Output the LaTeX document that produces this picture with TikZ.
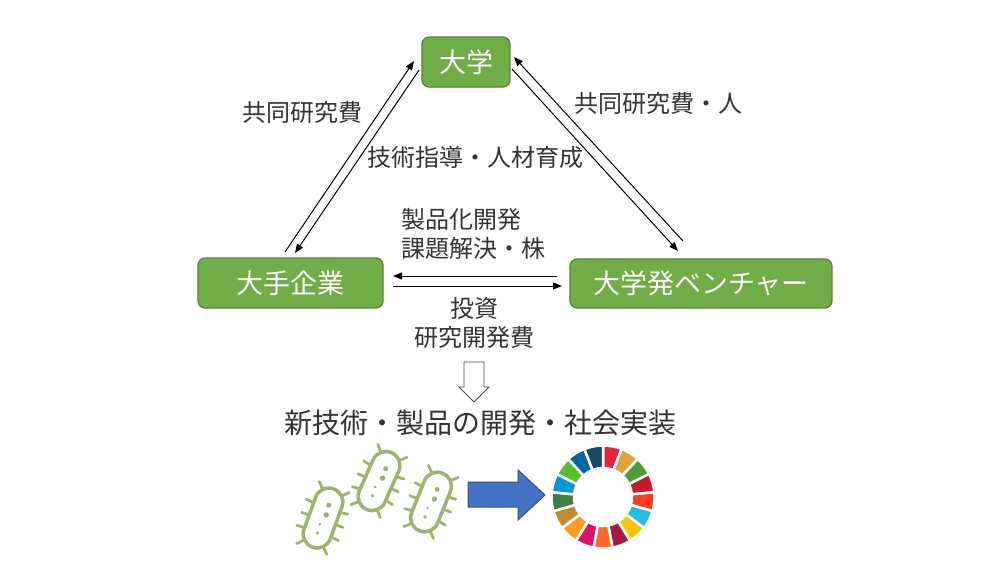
\documentclass[tikz,border=0pt]{standalone}
\usepackage{fontspec}
\setmainfont{Noto Sans CJK JP}
\usetikzlibrary{arrows.meta}
\definecolor{leaf}{RGB}{112,173,71}
\definecolor{leafdark}{RGB}{84,130,53}
\definecolor{germ}{RGB}{160,178,112}
\definecolor{blu}{RGB}{68,114,196}
\definecolor{bludark}{RGB}{47,82,143}
\definecolor{sdg1}{RGB}{229,36,59}
\definecolor{sdg2}{RGB}{221,166,58}
\definecolor{sdg3}{RGB}{76,159,56}
\definecolor{sdg4}{RGB}{197,25,45}
\definecolor{sdg5}{RGB}{255,58,33}
\definecolor{sdg6}{RGB}{38,189,226}
\definecolor{sdg7}{RGB}{252,195,11}
\definecolor{sdg8}{RGB}{162,25,66}
\definecolor{sdg9}{RGB}{253,105,37}
\definecolor{sdg10}{RGB}{221,19,103}
\definecolor{sdg11}{RGB}{253,157,36}
\definecolor{sdg12}{RGB}{191,139,46}
\definecolor{sdg13}{RGB}{63,126,68}
\definecolor{sdg14}{RGB}{10,151,217}
\definecolor{sdg15}{RGB}{86,192,43}
\definecolor{sdg16}{RGB}{0,104,157}
\definecolor{sdg17}{RGB}{25,72,106}
\tikzset{
  >={Triangle[length=9pt,width=7pt]},
  box/.style={draw=leafdark, line width=1.2pt, fill=leaf, rounded corners=7pt,
    text=white, font=\fontsize{27}{32}\selectfont, inner sep=0pt},
  lbl/.style={font=\fontsize{24}{29}\selectfont, inner sep=0pt, text=black!80},
  germline/.style={draw=germ, line width=3.5pt, line cap=round},
}

\begin{document}
\begin{tikzpicture}[x=1pt,y=-1pt]
\useasboundingbox (0,0) rectangle (1000,563);

\node[box, minimum width=88pt, minimum height=50pt] (U) at (466,62) {大学};
\node[box, minimum width=185pt, minimum height=50pt] (C) at (290.5,283) {大手企業};
\node[box, minimum width=262pt, minimum height=49pt] (V) at (701,283.5) {大学発ベンチャー};

\coordinate (P1) at (285,252);
\coordinate (Q1) at (414,61);
\coordinate (P2) at (419,70);
\coordinate (Q2) at (295,253);
\coordinate (P3) at (683,241);
\coordinate (Q3) at (514,57);
\coordinate (P4) at (512,69);
\coordinate (Q4) at (678,251);
\coordinate (P5) at (557,276);
\coordinate (Q5) at (393,276);
\coordinate (P6) at (393,286);
\coordinate (Q6) at (562,286);

\draw[->, line width=1pt] (P1) -- (Q1);
\draw[->, line width=1pt] (P2) -- (Q2);
\draw[->, line width=1pt] (P3) -- (Q3);
\draw[->, line width=1pt] (P4) -- (Q4);
\draw[->, line width=1pt] (P5) -- (Q5);
\draw[->, line width=1pt] (P6) -- (Q6);

\node[lbl] (L1) at (302,112) {共同研究費};
\node[lbl] (L2) at (475,157) {技術指導・人材育成};
\node[lbl] (L3) at (658,103) {共同研究費・人};
\node[lbl, align=left, anchor=west] (L4) at (401,234) {製品化開発\\課題解決・株};
\node[lbl, align=center] (L5) at (474,323) {投資\\研究開発費};

% open arrow down
\draw[draw=black!70, fill=white, line width=0.8pt] (464,362) -- (484,362) -- (484,387)
  -- (489,387) -- (474,402) -- (459,387) -- (464,387) -- cycle;

\node[lbl, font=\fontsize{28}{32}\selectfont] (T) at (480.5,423) {新技術・製品の開発・社会実装};

% germs
\foreach \x/\y/\r in {323/518/-20, 379/481/-24, 431/502/-22} {
  \begin{scope}[shift={(\x,\y)}, rotate=\r]
    \draw[germline, rounded corners=13.9pt] (-14,-31) rectangle (14,31);
    \foreach \a/\b/\c/\d in {-14/-11/-22/-12, -14/2/-22/2, -14/15/-22/16,
      14/-11/22/-12, 14/2/22/2, 14/15/22/16,
      -10/-27/-16/-33, 10/-27/16/-33, -10/27/-16/33, 10/27/16/33}
      \draw[germline, line width=2.8pt] (\a,\b) -- (\c,\d);
    \fill[germ] (1,-14) circle (2.5);
    \fill[germ] (2,-4) circle (2.7);
    \fill[germ] (-1,7) circle (1.4);
    \fill[germ] (0,16) circle (1.9);
  \end{scope}
}

% blue arrow
\draw[fill=blu, draw=bludark, line width=1pt] (468,482) -- (518,482) -- (518,470)
  -- (545,495) -- (518,520) -- (518,507) -- (468,507) -- cycle;

% sdg wheel
\coordinate (S) at (603,497);
\foreach \i in {1,...,17} {
  \pgfmathsetmacro{\a}{-90+(\i-1)*360/17}
  \pgfmathsetmacro{\b}{-90+\i*360/17}
  \filldraw[fill=sdg\i, draw=white, line width=2.5pt] ([shift={(\a:51.5)}]S)
    arc[start angle=\a, end angle=\b, radius=51.5] -- ([shift={(\b:29)}]S)
    arc[start angle=\b, end angle=\a, radius=29] -- cycle;
}
\end{tikzpicture}
\end{document}
